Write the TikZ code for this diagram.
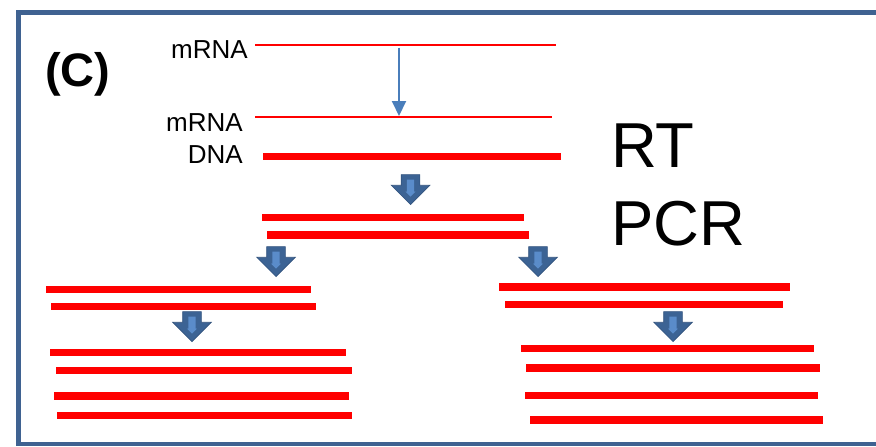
\documentclass[tikz,border=0pt]{standalone}
\usepackage{fontspec}
\setmainfont{Liberation Sans}
\usetikzlibrary{arrows.meta,shapes.arrows}

\definecolor{strandred}{RGB}{255,0,0}
\definecolor{frameblue}{RGB}{63,98,145}
\definecolor{cycleblue}{RGB}{60,99,148}
\definecolor{glintblue}{RGB}{90,140,202}
\definecolor{rtblue}{RGB}{74,126,187}

\begin{document}
\begin{tikzpicture}[
    x=1pt, y=-1pt,
    strand/.style={draw=strandred, line width=7.5pt},
    rna/.style={draw=strandred, line width=1.5pt},
    molname/.style={font=\fontsize{26}{30}\selectfont, anchor=base east, inner sep=0pt},
    bigname/.style={font=\fontsize{63.5}{70}\selectfont, anchor=base west, inner sep=0pt},
    cycle/.style={single arrow, shape border rotate=270, fill=cycleblue,
        draw=cycleblue!85!black, line width=0.6pt, inner sep=0pt,
        text width=18pt, text height=0pt, text depth=0pt,
        single arrow head extend=10pt, minimum width=38pt, minimum height=30pt, anchor=tip},
    glint/.style={single arrow, shape border rotate=270, fill=glintblue, inner sep=0pt,
        text width=7pt, text height=0pt, text depth=0pt,
        single arrow head extend=1.5pt, minimum width=10pt, minimum height=17pt, anchor=tip}
]
    \useasboundingbox (0,0) rectangle (876,447);

    % frame, open on the right
    \draw[frameblue, line width=4.5pt] (890,12.3) -| (18.5,444) -- (890,444);

    \node[font=\bfseries\fontsize{47}{50}\selectfont, anchor=base west, inner sep=0pt] (panel) at (45,86) {(C)};

    % reverse transcription
    \node[molname] (rna1) at (248,58) {mRNA};
    \node[molname] (rna2) at (243,131) {mRNA};
    \node[molname] (dna) at (243,163) {DNA};
    \draw[rna] (255,45) -- (555.7,45);
    \draw[rna] (255,117) -- (552,117);
    \draw[strand] (263,156.3) -- (560.7,156.3);
    \coordinate (rt1) at (399,47.5);
    \coordinate (rt2) at (399,116);
    \draw[rtblue, line width=2pt, -{Triangle[width=14pt,length=15pt]}] (rt1) -- (rt2);

    \node[bigname] (rt) at (611,167) {RT};
    \node[bigname] (pcr) at (611,245) {PCR};

    % first cycle
    \node[cycle] (c0) at (410.5,205) {};
    \node[glint] at (410.5,197) {};
    \draw[strand] (262,217.7) -- (524,217.7);
    \draw[strand] (267,235) -- (529,235);

    % second cycle
    \node[cycle] (c1l) at (276,277) {};
    \node[glint] at (276,269) {};
    \node[cycle] (c1r) at (538,277) {};
    \node[glint] at (538,269) {};
    \draw[strand] (46,289.7) -- (311,289.7);
    \draw[strand] (51,306.7) -- (316,306.7);
    \draw[strand] (499,287) -- (790,287);
    \draw[strand] (505,304.7) -- (783,304.7);

    % third cycle
    \node[cycle] (c2l) at (192,342) {};
    \node[glint] at (192,334) {};
    \node[cycle] (c2r) at (673,342) {};
    \node[glint] at (673,334) {};
    \draw[strand] (50,352.3) -- (346,352.3);
    \draw[strand] (56,370.3) -- (352,370.3);
    \draw[strand] (54,396) -- (349,396);
    \draw[strand] (57,415.7) -- (352,415.7);
    \draw[strand] (521,348.7) -- (814,348.7);
    \draw[strand] (526,368) -- (820,368);
    \draw[strand] (525,395.7) -- (818,395.7);
    \draw[strand] (530,420) -- (823,420);
\end{tikzpicture}
\end{document}
